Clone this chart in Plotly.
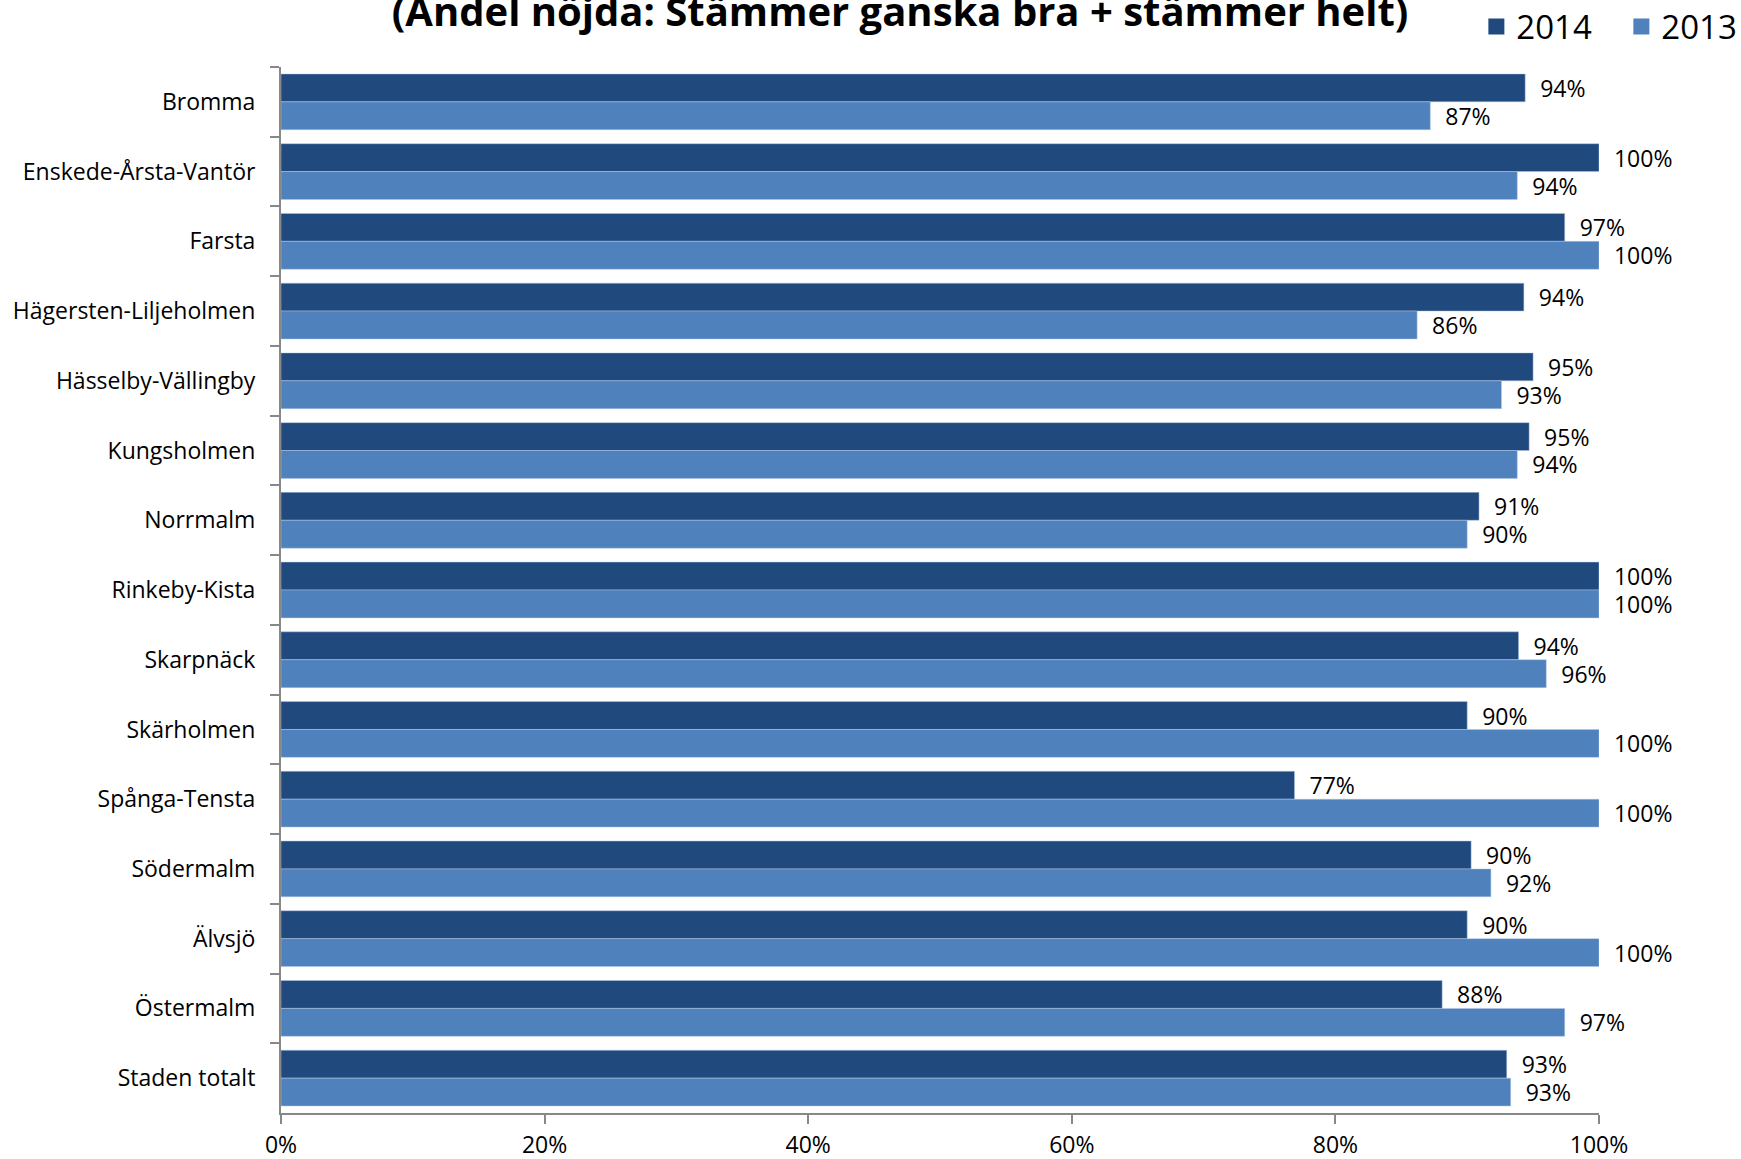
import plotly.graph_objects as go

categories = ["Bromma", "Enskede-Årsta-Vantör", "Farsta", "Hägersten-Liljeholmen",
              "Hässelby-Vällingby", "Kungsholmen", "Norrmalm", "Rinkeby-Kista",
              "Skarpnäck", "Skärholmen", "Spånga-Tensta", "Södermalm", "Älvsjö",
              "Östermalm", "Staden totalt"]
values_2014 = [94.4, 100, 97.4, 94.3, 95.0, 94.7, 90.9, 100, 93.9, 90.0, 76.9, 90.3, 90.0, 88.1, 93.0]
values_2013 = [87.2, 93.8, 100, 86.2, 92.6, 93.8, 90.0, 100, 96.0, 100, 100, 91.8, 100, 97.4, 93.3]
x_tickvals = [0, 20, 40, 60, 80, 100]
x_ticktext = ["0%", "20%", "40%", "60%", "80%", "100%"]
title_text = "(Andel nöjda: Stämmer ganska bra + stämmer helt)"

C2014 = "#204A7E"
C2013 = "#4F81BD"
FONT = "Open Sans"

fig = go.Figure()
for name, vals, col in [("2014", values_2014, C2014), ("2013", values_2013, C2013)]:
    fig.add_trace(go.Bar(
        y=categories, x=vals, orientation="h", name=name,
        marker=dict(color=col, line=dict(color="rgba(180,200,230,0.6)", width=0.8)),
        text=[f"{round(v)}%" for v in vals],
        texttemplate="  %{text}",
        textposition="outside", constraintext="none", cliponaxis=False,
        textfont=dict(family=FONT, size=23, color="#000000"),
        legendgroup=name, showlegend=False, hoverinfo="x+y",
    ))
    fig.add_trace(go.Scatter(
        x=[None], y=[None], mode="markers", name=name, legendgroup=name,
        marker=dict(symbol="square", size=20, color=col), showlegend=True,
    ))

fig.update_layout(
    width=1741, height=1159,
    paper_bgcolor="white", plot_bgcolor="white",
    margin=dict(l=281, r=142, t=67, b=46, autoexpand=False),
    barmode="group", bargap=0.2, bargroupgap=0,
    font=dict(family=FONT, size=23, color="#000000"),
    title=dict(text=title_text, x=0.517, xanchor="center", y=0.990, yanchor="middle",
               font=dict(family=FONT, size=40, color="#000000", weight="bold")),
    legend=dict(orientation="h", x=0.848, xanchor="left", y=0.977, yanchor="middle",
                yref="container", xref="container",
                entrywidth=100, entrywidthmode="pixels",
                font=dict(family=FONT, size=33, color="#000000"),
                bgcolor="rgba(0,0,0,0)", itemsizing="trace"),
    showlegend=True,
)
fig.update_xaxes(range=[0, 100], tickvals=x_tickvals, ticktext=x_ticktext,
                 showgrid=False, zeroline=False, showline=True, linecolor="#888888", linewidth=2,
                 ticks="outside", ticklen=9, tickcolor="#888888", tickwidth=1.5,
                 ticklabelstandoff=1,
                 tickfont=dict(family=FONT, size=23, color="#000000"))
fig.update_yaxes(autorange="reversed", showgrid=False, showline=True, linecolor="#888888", linewidth=2,
                 ticks="outside", ticklen=9, tickcolor="#888888", tickwidth=1.5,
                 tickson="boundaries", ticklabelstandoff=19,
                 tickfont=dict(family=FONT, size=23, color="#000000"))

fig.write_html("out.html", config={"displayModeBar": False},
               post_script="document.body.style.margin='0';")
